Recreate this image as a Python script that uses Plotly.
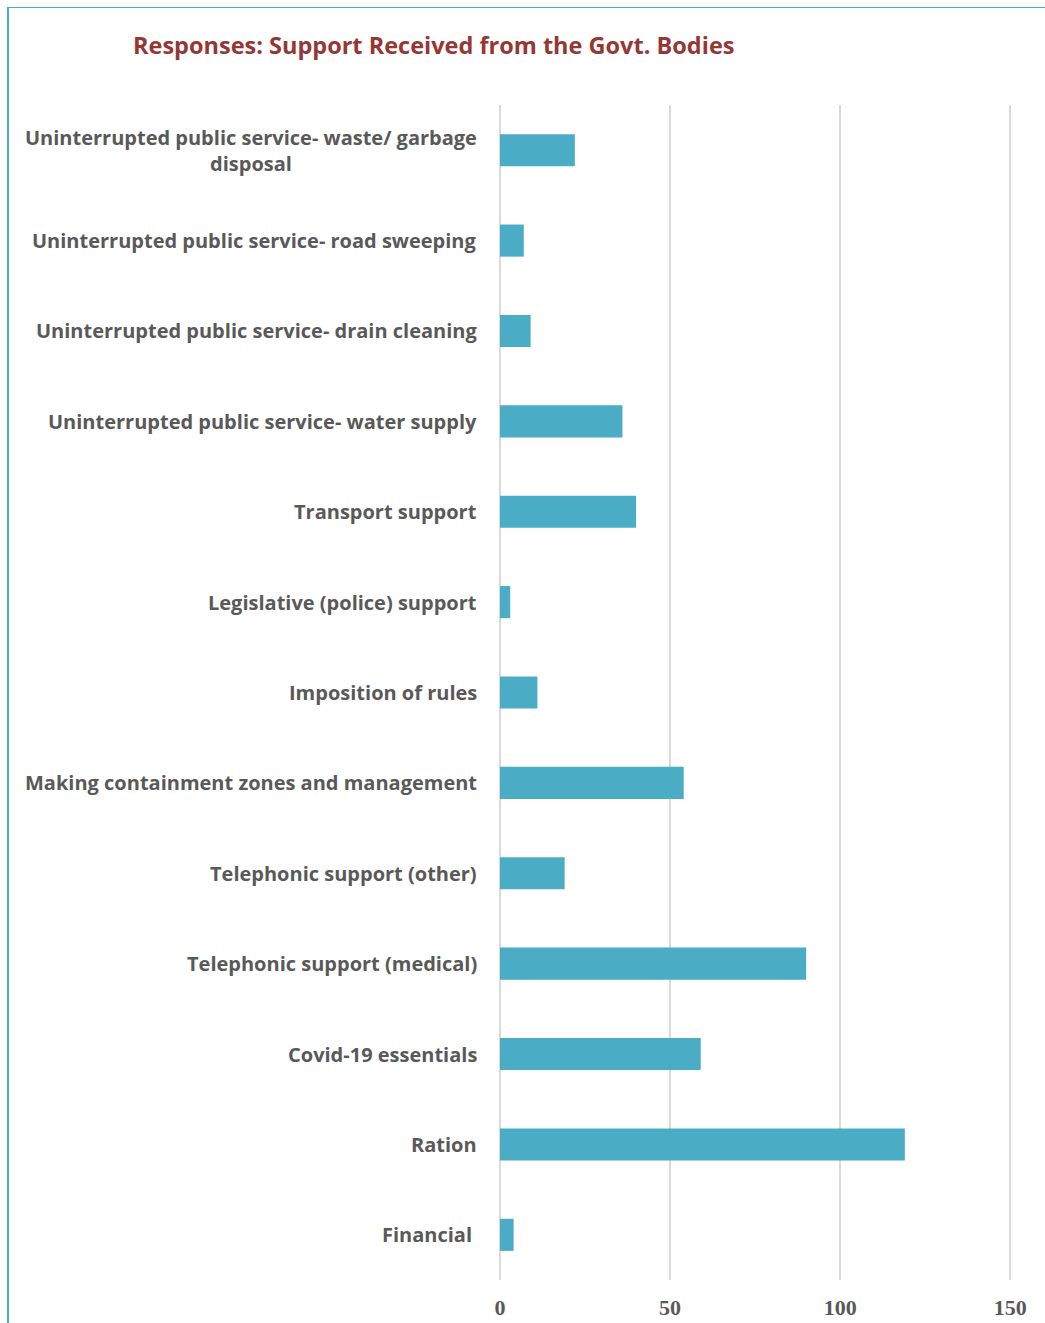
import plotly.graph_objects as go

# Support received from government bodies (number of responses)
categories = [
    "Uninterrupted public service- waste/ garbage<br>disposal",
    "Uninterrupted public service- road sweeping",
    "Uninterrupted public service- drain cleaning",
    "Uninterrupted public service- water supply",
    "Transport support",
    "Legislative (police) support",
    "Imposition of rules",
    "Making containment zones and management",
    "Telephonic support (other)",
    "Telephonic support (medical)",
    "Covid-19 essentials",
    "Ration",
    "Financial\u00a0",
]
responses = [22, 7, 9, 36, 40, 3, 11, 54, 19, 90, 59, 119, 4]
x_ticks = [0, 50, 100, 150]

title_text = "Responses: Support Received from the Govt. Bodies"

W, H = 1045, 1323
M_L, M_R, M_T, M_B = 500, 33, 105, 43
plot_w = W - M_L - M_R
plot_h = H - M_T - M_B

BAR = "#4BACC6"
GRID = "#D9D9D9"
FRAME = "#4BACC6"
LABEL = "#595959"


def px_x(p):
    return (p - M_L) / plot_w


def px_y(p):
    return (H - M_B - p) / plot_h


fig = go.Figure()
fig.add_trace(go.Bar(
    x=responses,
    y=categories,
    orientation="h",
    marker=dict(color=BAR, line=dict(width=0)),
    hoverinfo="x+y",
))

# category labels, right-aligned next to the axis, multi-line centred
annotations = []
for cat in categories:
    annotations.append(dict(
        x=0, xref="paper", xanchor="right", xshift=-21,
        y=cat, yref="y", yanchor="middle",
        text=cat, showarrow=False, align="center",
        font=dict(family="Open Sans", size=20, color=LABEL, weight=700),
    ))

annotations.append(dict(
    x=px_x(131), xref="paper", xanchor="left",
    y=px_y(45), yref="paper", yanchor="middle",
    text=title_text, showarrow=False,
    font=dict(family="Open Sans", size=23.5, color="#953735", weight=700),
))

shapes = [
    # outer frame: left and top edges
    dict(type="line", xref="paper", yref="paper",
         x0=px_x(8), x1=px_x(8), y0=px_y(7), y1=px_y(H + 5),
         line=dict(color=FRAME, width=2)),
    dict(type="line", xref="paper", yref="paper",
         x0=px_x(7), x1=px_x(W + 5), y0=px_y(7.5), y1=px_y(7.5),
         line=dict(color=FRAME, width=1.2)),
]

fig.update_layout(
    width=W, height=H,
    margin=dict(l=M_L, r=M_R, t=M_T, b=M_B, autoexpand=False),
    paper_bgcolor="white", plot_bgcolor="white",
    showlegend=False,
    bargap=0.645,
    annotations=annotations,
    shapes=shapes,
    xaxis=dict(
        range=[0, 150.5],
        automargin=False,
        tickvals=x_ticks,
        ticktext=[str(v) for v in x_ticks],
        showgrid=True, gridcolor=GRID, gridwidth=2,
        zeroline=True, zerolinecolor=GRID, zerolinewidth=2,
        showline=False, ticks="",
        ticklabelstandoff=12,
        tickfont=dict(family="Liberation Serif", size=22, color="#595959", weight="bold"),
    ),
    yaxis=dict(
        type="category",
        autorange="reversed",
        automargin=False,
        showticklabels=False, showgrid=False, zeroline=False, showline=False,
        ticks="",
    ),
)

fig.write_html("out.html")
